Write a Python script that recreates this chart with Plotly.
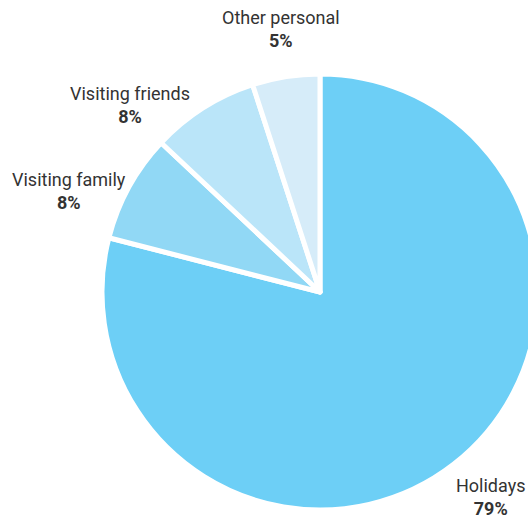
import plotly.graph_objects as go

# Purpose of trip shares (%)
categories = ["Holidays", "Visiting family", "Visiting friends", "Other personal"]
shares = [79, 8, 8, 5]
colors = ["#6dcff6", "#91d8f5", "#bae5f9", "#d6ecf9"]

# Label block centres (pixel space of the figure) for each category
label_pos = {
    "Holidays": (490, 497),
    "Visiting family": (69, 191),
    "Visiting friends": (130, 105),
    "Other personal": (281, 29),
}

W, H = 540, 519
cx, cy, r = 320, 292, 218

fig = go.Figure(
    go.Pie(
        labels=categories,
        values=shares,
        sort=False,
        direction="clockwise",
        rotation=0,
        marker=dict(colors=colors, line=dict(color="white", width=5)),
        textinfo="none",
        hoverinfo="label+percent",
        showlegend=False,
        domain=dict(
            x=[(cx - r) / W, (cx + r) / W],
            y=[(H - cy - r) / H, (H - cy + r) / H],
        ),
    )
)

font_family = "Roboto, 'Open Sans', sans-serif"
for cat, val in zip(categories, shares):
    px, py = label_pos[cat]
    fig.add_annotation(
        x=px / W, y=1 - py / H, xref="paper", yref="paper",
        text=f"{cat}<br><b>{val}%</b>", showarrow=False,
        xanchor="center", yanchor="middle", align="center",
        borderpad=0,
        font=dict(family=font_family, size=18, color="#333333"),
    )

fig.update_layout(
    width=W, height=H,
    margin=dict(l=0, r=0, t=0, b=0),
    paper_bgcolor="white", plot_bgcolor="white",
)

fig.write_html("out.html")
